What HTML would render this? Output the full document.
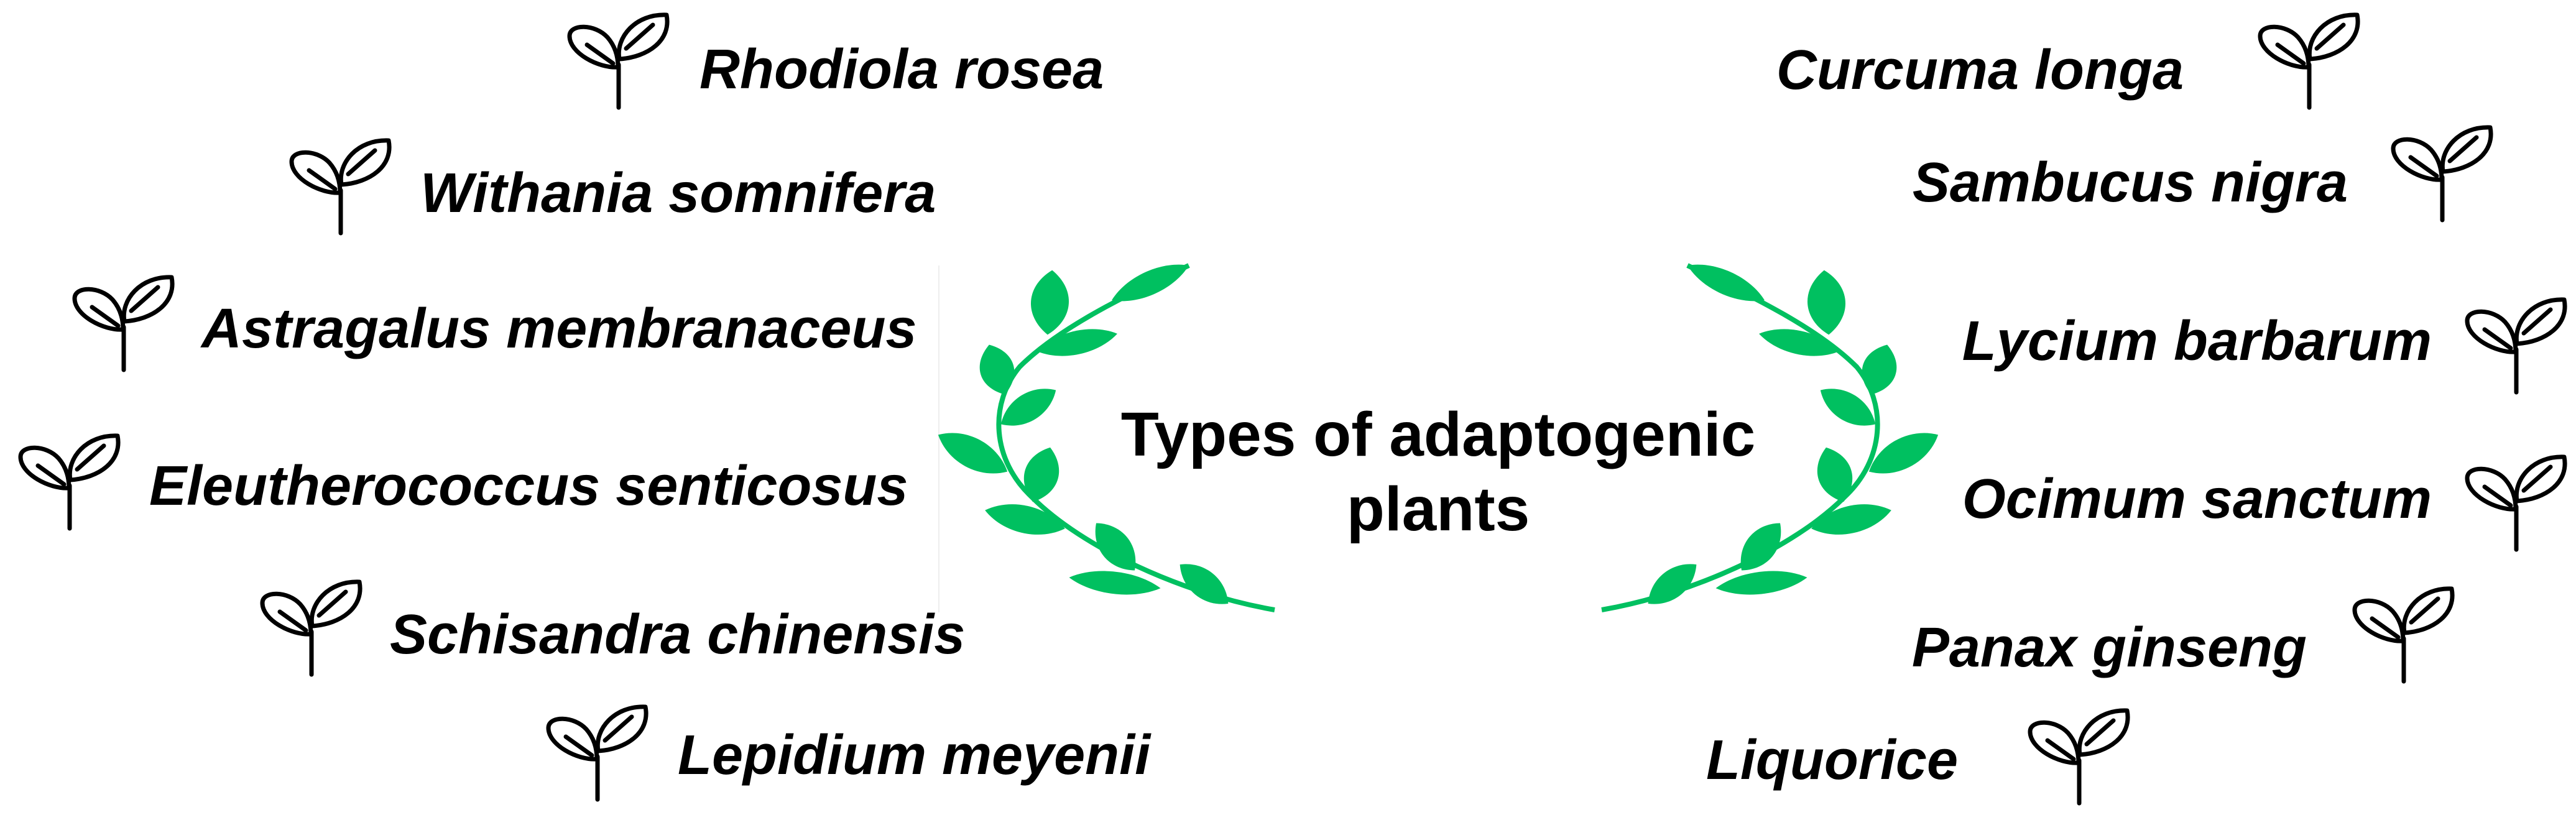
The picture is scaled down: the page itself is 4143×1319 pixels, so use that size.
<!DOCTYPE html>
<html><head><meta charset="utf-8"><style>
html,body{margin:0;padding:0;background:#fff;}
svg{display:block;}
.t{font-family:"Liberation Sans",Arial,sans-serif;font-weight:bold;font-style:italic;font-size:90px;fill:#000;}
.h{font-family:"Liberation Sans",Arial,sans-serif;font-weight:bold;font-size:100px;fill:#000;}
</style></head><body>
<svg width="4143" height="1319" viewBox="0 0 4143 1319" xmlns="http://www.w3.org/2000/svg">
<defs>
<g id="sp" fill="none" stroke="#000" stroke-width="7" stroke-linecap="round" stroke-linejoin="round">
<path d="M83,84 L83,153"/>
<path d="M82,88 C50,90 4,65 4,38 C4,18 45,18 65,40 C78,55 82,72 82,88 Z"/>
<path d="M32,52 L74,82"/>
<path d="M84,75 C78,40 110,2 160,4 C168,45 130,72 84,75 Z"/>
<path d="M95,58 L138,20"/>
</g>
<path id="lf" d="M-1,0 C-0.45,-1.4 0.45,-1.4 1,0 C0.45,1.4 -0.45,1.4 -1,0Z"/>
<g id="laurel" fill="#00c060">
<path d="M1912,427 C1800,480 1700,530 1640,590 C1590,650 1595,740 1660,800 C1740,880 1900,955 2050,981" fill="none" stroke="#00c060" stroke-width="8"/>
<use href="#lf" transform="translate(1850 455) rotate(-24.3) scale(68 18)"/>
<use href="#lf" transform="translate(1688.5 486.5) rotate(-85.9) scale(52 29)"/>
<use href="#lf" transform="translate(1732.5 551) rotate(-12.4) scale(66 18)"/>
<use href="#lf" transform="translate(1603.5 594.5) rotate(-107.5) scale(42 26)"/>
<use href="#lf" transform="translate(1654 655) rotate(-31.8) scale(52 21)"/>
<use href="#lf" transform="translate(1564.5 729) rotate(-152) scale(63 23)"/>
<use href="#lf" transform="translate(1675 763.5) rotate(-72.2) scale(46 26)"/>
<use href="#lf" transform="translate(1648.5 835.5) rotate(-167.1) scale(66 21)"/>
<use href="#lf" transform="translate(1794 879.5) rotate(-129.2) scale(49 23)"/>
<use href="#lf" transform="translate(1793 937.5) rotate(-173.3) scale(74 17)"/>
<use href="#lf" transform="translate(1936.5 939.5) rotate(-141) scale(50 21)"/>
</g>
</defs>
<line x1="1510" y1="427" x2="1510" y2="985" stroke="#eeeeee" stroke-width="2"/>
<use href="#laurel"/>
<use href="#laurel" transform="translate(4626,0) scale(-1,1)"/>
<text class="h" x="2313" y="733" text-anchor="middle">Types of adaptogenic</text>
<text class="h" x="2313" y="853" text-anchor="middle">plants</text>

<use href="#sp" x="912" y="20"/>
<text class="t" x="1125" y="142">Rhodiola rosea</text>
<use href="#sp" x="465" y="222"/>
<text class="t" x="676" y="341">Withania somnifera</text>
<use href="#sp" x="116" y="442"/>
<text class="t" x="324" y="559">Astragalus membranaceus</text>
<use href="#sp" x="29" y="697"/>
<text class="t" x="240" y="812">Eleutherococcus senticosus</text>
<use href="#sp" x="418" y="932"/>
<text class="t" x="627" y="1051">Schisandra chinensis</text>
<use href="#sp" x="878" y="1133"/>
<text class="t" x="1090" y="1245">Lepidium meyenii</text>

<use href="#sp" x="3631" y="20"/>
<text class="t" x="3512" y="143" text-anchor="end">Curcuma longa</text>
<use href="#sp" x="3845" y="201"/>
<text class="t" x="3776" y="324" text-anchor="end">Sambucus nigra</text>
<use href="#sp" x="3964" y="478"/>
<text class="t" x="3911" y="579" text-anchor="end">Lycium barbarum</text>
<use href="#sp" x="3964" y="731"/>
<text class="t" x="3911" y="833" text-anchor="end">Ocimum sanctum</text>
<use href="#sp" x="3783" y="943"/>
<text class="t" x="3710" y="1072" text-anchor="end">Panax ginseng</text>
<use href="#sp" x="3261" y="1139"/>
<text class="t" x="3149" y="1253" text-anchor="end">Liquorice</text>
</svg>
</body></html>
